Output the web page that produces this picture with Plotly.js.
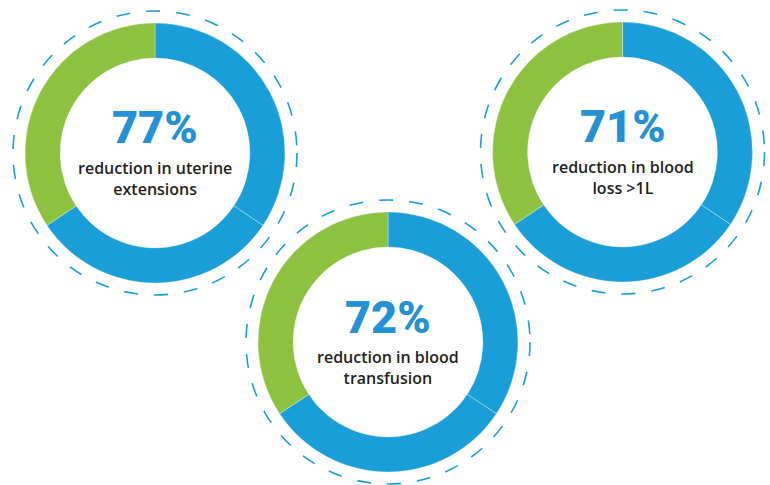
<!DOCTYPE html>
<html>
<head>
<meta charset="utf-8">
<script src="https://cdn.plot.ly/plotly-3.0.1.min.js"></script>
<style>html,body{margin:0;padding:0;background:#fff;}#chart{width:770px;height:485px;}</style>
</head>
<body>
<div id="chart"></div>
<script>
// Data
const percents = ["77%", "72%", "71%"];
const captions = ["reduction in uterine<br>extensions", "reduction in blood<br>transfusion", "reduction in blood<br>loss >1L"];
const segmentLabels = ["A", "B", "C"];
const segUterine = [34.4, 31.2, 34.4];
const segTransfusion = [34.3, 31.4, 34.3];
const segBloodLoss = [34.4, 31.2, 34.4];
const segments = [segUterine, segTransfusion, segBloodLoss];

// Layout geometry (pixels)
const W = 770, H = 485;
const centers = [[155, 153], [388, 342], [622.5, 152]];
const R = 130, RD = 142;
const BLUE = "#199ed8", GREEN = "#8cc23f", PCT = "#2391d4", TXT = "#231f20";

const px = x => x / W;
const py = y => 1 - y / H;

const traces = segments.map((vals, i) => {
  const [cx, cy] = centers[i];
  return {
    type: "pie",
    values: vals,
    labels: segmentLabels,
    sort: false,
    direction: "clockwise",
    rotation: 0,
    hole: 0.73,
    textinfo: "none",
    hoverinfo: "none",
    showlegend: false,
    marker: { colors: [BLUE, BLUE, GREEN], line: { color: "rgba(255,255,255,0.55)", width: 0.6 } },
    domain: { x: [px(cx - R), px(cx + R)], y: [py(cy + R), py(cy - R)] }
  };
});

const shapes = centers.map(([cx, cy]) => ({
  type: "circle", xref: "paper", yref: "paper",
  x0: px(cx - RD), x1: px(cx + RD), y0: py(cy + RD), y1: py(cy - RD),
  line: { color: BLUE, width: 1.6, dash: "14px,16px" }
}));

const annotations = [];
centers.forEach(([cx, cy], i) => {
  annotations.push({
    xref: "paper", yref: "paper", x: px(cx), y: py(cy - 25), xanchor: "center", yanchor: "middle",
    text: percents[i], showarrow: false,
    font: { family: "Roboto", size: 45, color: PCT, weight: 900 }
  });
  annotations.push({
    xref: "paper", yref: "paper", x: px(cx), y: py(cy + 25), xanchor: "center", yanchor: "middle",
    text: captions[i], showarrow: false,
    font: { family: "Open Sans", size: 16, color: TXT, weight: 600 }
  });
});

Plotly.newPlot("chart", traces, {
  width: W, height: H,
  margin: { l: 0, r: 0, t: 0, b: 0 },
  paper_bgcolor: "#fff", plot_bgcolor: "#fff",
  shapes: shapes, annotations: annotations
}, { displayModeBar: false, staticPlot: true });
</script>
</body>
</html>
